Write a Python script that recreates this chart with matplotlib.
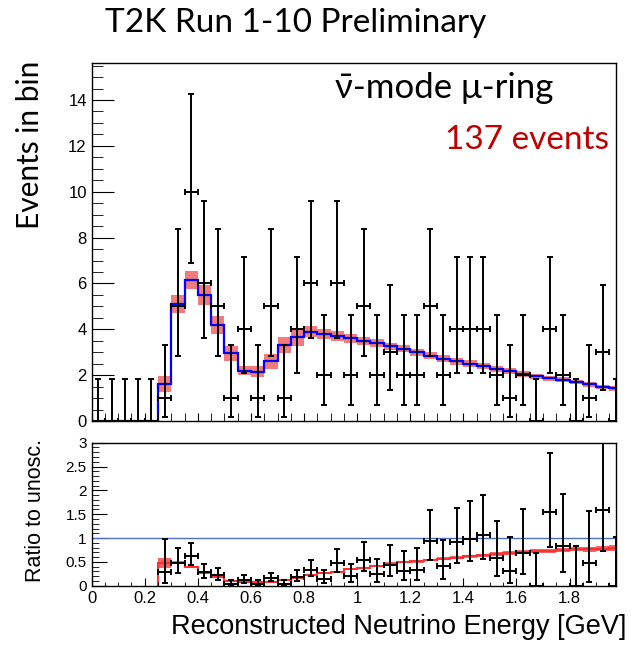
import numpy as np
import matplotlib.pyplot as plt
from matplotlib.ticker import MultipleLocator

# 0.05 GeV reconstructed-energy bins
bin_edges = np.round(np.arange(0, 2.0001, 0.05), 3)
bin_centers = 0.5 * (bin_edges[:-1] + bin_edges[1:])

# observed events per bin
data_counts = np.array([0, 0, 0, 0, 0, 1, 5, 10, 6, 5,
                        1, 4, 1, 5, 1, 4, 6, 2, 6, 2,
                        5, 2, 3, 2, 2, 5, 2, 4, 4, 4,
                        2, 1, 2, 0, 4, 2, 0, 1, 3, 0])

# best-fit prediction and its systematic uncertainty
pred = np.array([0, 0, 0, 0, 0, 1.6, 5.1, 6.15, 5.5, 4.2,
                 2.95, 2.2, 2.15, 2.6, 3.3, 3.65, 3.9, 3.8, 3.7, 3.6,
                 3.5, 3.4, 3.25, 3.15, 3.0, 2.85, 2.72, 2.6, 2.5, 2.4,
                 2.28, 2.18, 2.05, 1.95, 1.87, 1.8, 1.7, 1.6, 1.48, 1.42])
pred_err = np.array([0, 0, 0, 0, 0, 0.35, 0.39, 0.4, 0.42, 0.4,
                     0.33, 0.2, 0.23, 0.33, 0.35, 0.38, 0.24, 0.22, 0.22, 0.2,
                     0.18, 0.17, 0.17, 0.16, 0.16, 0.15, 0.15, 0.14, 0.14, 0.13,
                     0.13, 0.12, 0.12, 0.12, 0.11, 0.11, 0.1, 0.1, 0.1, 0.1])

# unoscillated expectation
unosc = np.array([0, 0, 0, 0, 0, 3.4, 10.5, 15.8, 21, 23,
                  30, 32, 30, 32, 28, 22, 18, 14.5, 12.5, 10,
                  9.2, 8.3, 7.0, 6.4, 5.9, 5.3, 4.8, 4.4, 4.05, 3.75,
                  3.4, 3.2, 2.9, 2.7, 2.57, 2.42, 2.22, 2.1, 1.9, 1.8])

# 68% Poisson intervals for small counts
poisson_lo = {0: 0.0, 1: 0.173, 2: 0.708, 3: 1.367, 4: 2.086, 5: 2.840, 6: 3.620, 10: 6.891}
poisson_hi = {0: 1.841, 1: 3.300, 2: 4.638, 3: 5.918, 4: 7.163, 5: 8.382, 6: 9.584, 10: 14.271}

y_lo = np.array([poisson_lo[n] for n in data_counts])
y_hi = np.array([poisson_hi[n] for n in data_counts])

root_font = ['Liberation Sans', 'DejaVu Sans']
slide_font = ['Lato', 'Open Sans', 'DejaVu Sans']
plt.rcParams['font.family'] = root_font

fig = plt.figure(figsize=(6.41, 6.48), dpi=100)
ax = fig.add_axes([0.143, 0.3503, 0.818, 0.552])
ax2 = fig.add_axes([0.143, 0.0961, 0.818, 0.2207], sharex=ax)

# --- spectrum ---
ax.bar(bin_centers, 2 * pred_err, bottom=pred - pred_err, width=0.05,
       color='#f26464', alpha=0.85, linewidth=0)
ax.stairs(pred, bin_edges, color='#0000ff', linewidth=1.6)
ax.errorbar(bin_centers, data_counts, xerr=0.025,
            yerr=[data_counts - y_lo, y_hi - data_counts],
            fmt='none', ecolor='black', elinewidth=1.4, capsize=2.2, capthick=1.4)

ax.set_xlim(0, 1.975)
ax.set_ylim(0, 15.6)
ax.yaxis.set_major_locator(MultipleLocator(2))
ax.yaxis.set_minor_locator(MultipleLocator(0.5))
ax.xaxis.set_major_locator(MultipleLocator(0.2))
ax.xaxis.set_minor_locator(MultipleLocator(0.05))
ax.tick_params(axis='x', which='both', direction='in', length=6, labelbottom=False)
ax.tick_params(axis='y', which='major', direction='in', length=16, labelsize=12)
ax.tick_params(axis='y', which='minor', direction='in', length=8)

ax.text(0.465, 0.93, 'ν\u0304-mode μ-ring', transform=ax.transAxes,
        fontsize=25, family=slide_font, ha='left', va='center')
ax.text(0.986, 0.785, '137 events', transform=ax.transAxes, color='#c00000',
        fontsize=24, family=slide_font, ha='right', va='center')

# --- ratio to unoscillated ---
m = unosc > 0
ratio = pred[m] / unosc[m]
ratio_err = np.maximum(pred_err[m] / unosc[m], 0.015)
d_ratio = data_counts[m] / unosc[m]
d_lo = y_lo[m] / unosc[m]
d_hi = y_hi[m] / unosc[m]

ax2.axhline(1, color='#4a6fc8', linewidth=1)
ax2.bar(bin_centers[m], 2 * ratio_err, bottom=ratio - ratio_err, width=0.05,
        color='#ff3b3b', alpha=0.8, linewidth=0)
ax2.stairs(ratio, bin_edges[np.r_[m, True]], color='#ff3030', linewidth=1.5)
ax2.errorbar(bin_centers[m], d_ratio, xerr=0.025,
             yerr=[d_ratio - d_lo, d_hi - d_ratio],
             fmt='none', ecolor='black', elinewidth=1.4, capsize=2.2, capthick=1.4)

ax2.set_ylim(0, 3)
ax2.yaxis.set_major_locator(MultipleLocator(0.5))
ax2.yaxis.set_minor_locator(MultipleLocator(0.1))
ax2.yaxis.set_major_formatter(lambda v, p: f'{v:g}')
ax2.xaxis.set_major_formatter(lambda v, p: f'{v:g}')
ax2.tick_params(axis='x', which='major', direction='in', length=6, labelsize=12, pad=4)
ax2.tick_params(axis='x', which='minor', direction='in', length=3)
ax2.tick_params(axis='y', which='major', direction='in', length=11, labelsize=11)
ax2.tick_params(axis='y', which='minor', direction='in', length=5)

for a in (ax, ax2):
    for s in a.spines.values():
        s.set_linewidth(1)

fig.text(0.462, 0.965, 'T2K Run 1-10 Preliminary', fontsize=24, family=slide_font,
         ha='center', va='center')
fig.text(0.047, 0.776, 'Events in bin', fontsize=21.5, family=slide_font,
         rotation=90, ha='center', va='center')
fig.text(0.055, 0.213, 'Ratio to unosc.', fontsize=15.5, rotation=90,
         ha='center', va='center')
fig.text(0.622, 0.032, 'Reconstructed Neutrino Energy [GeV]', fontsize=19.5,
         ha='center', va='center')

fig.savefig('out.png', dpi=100)
